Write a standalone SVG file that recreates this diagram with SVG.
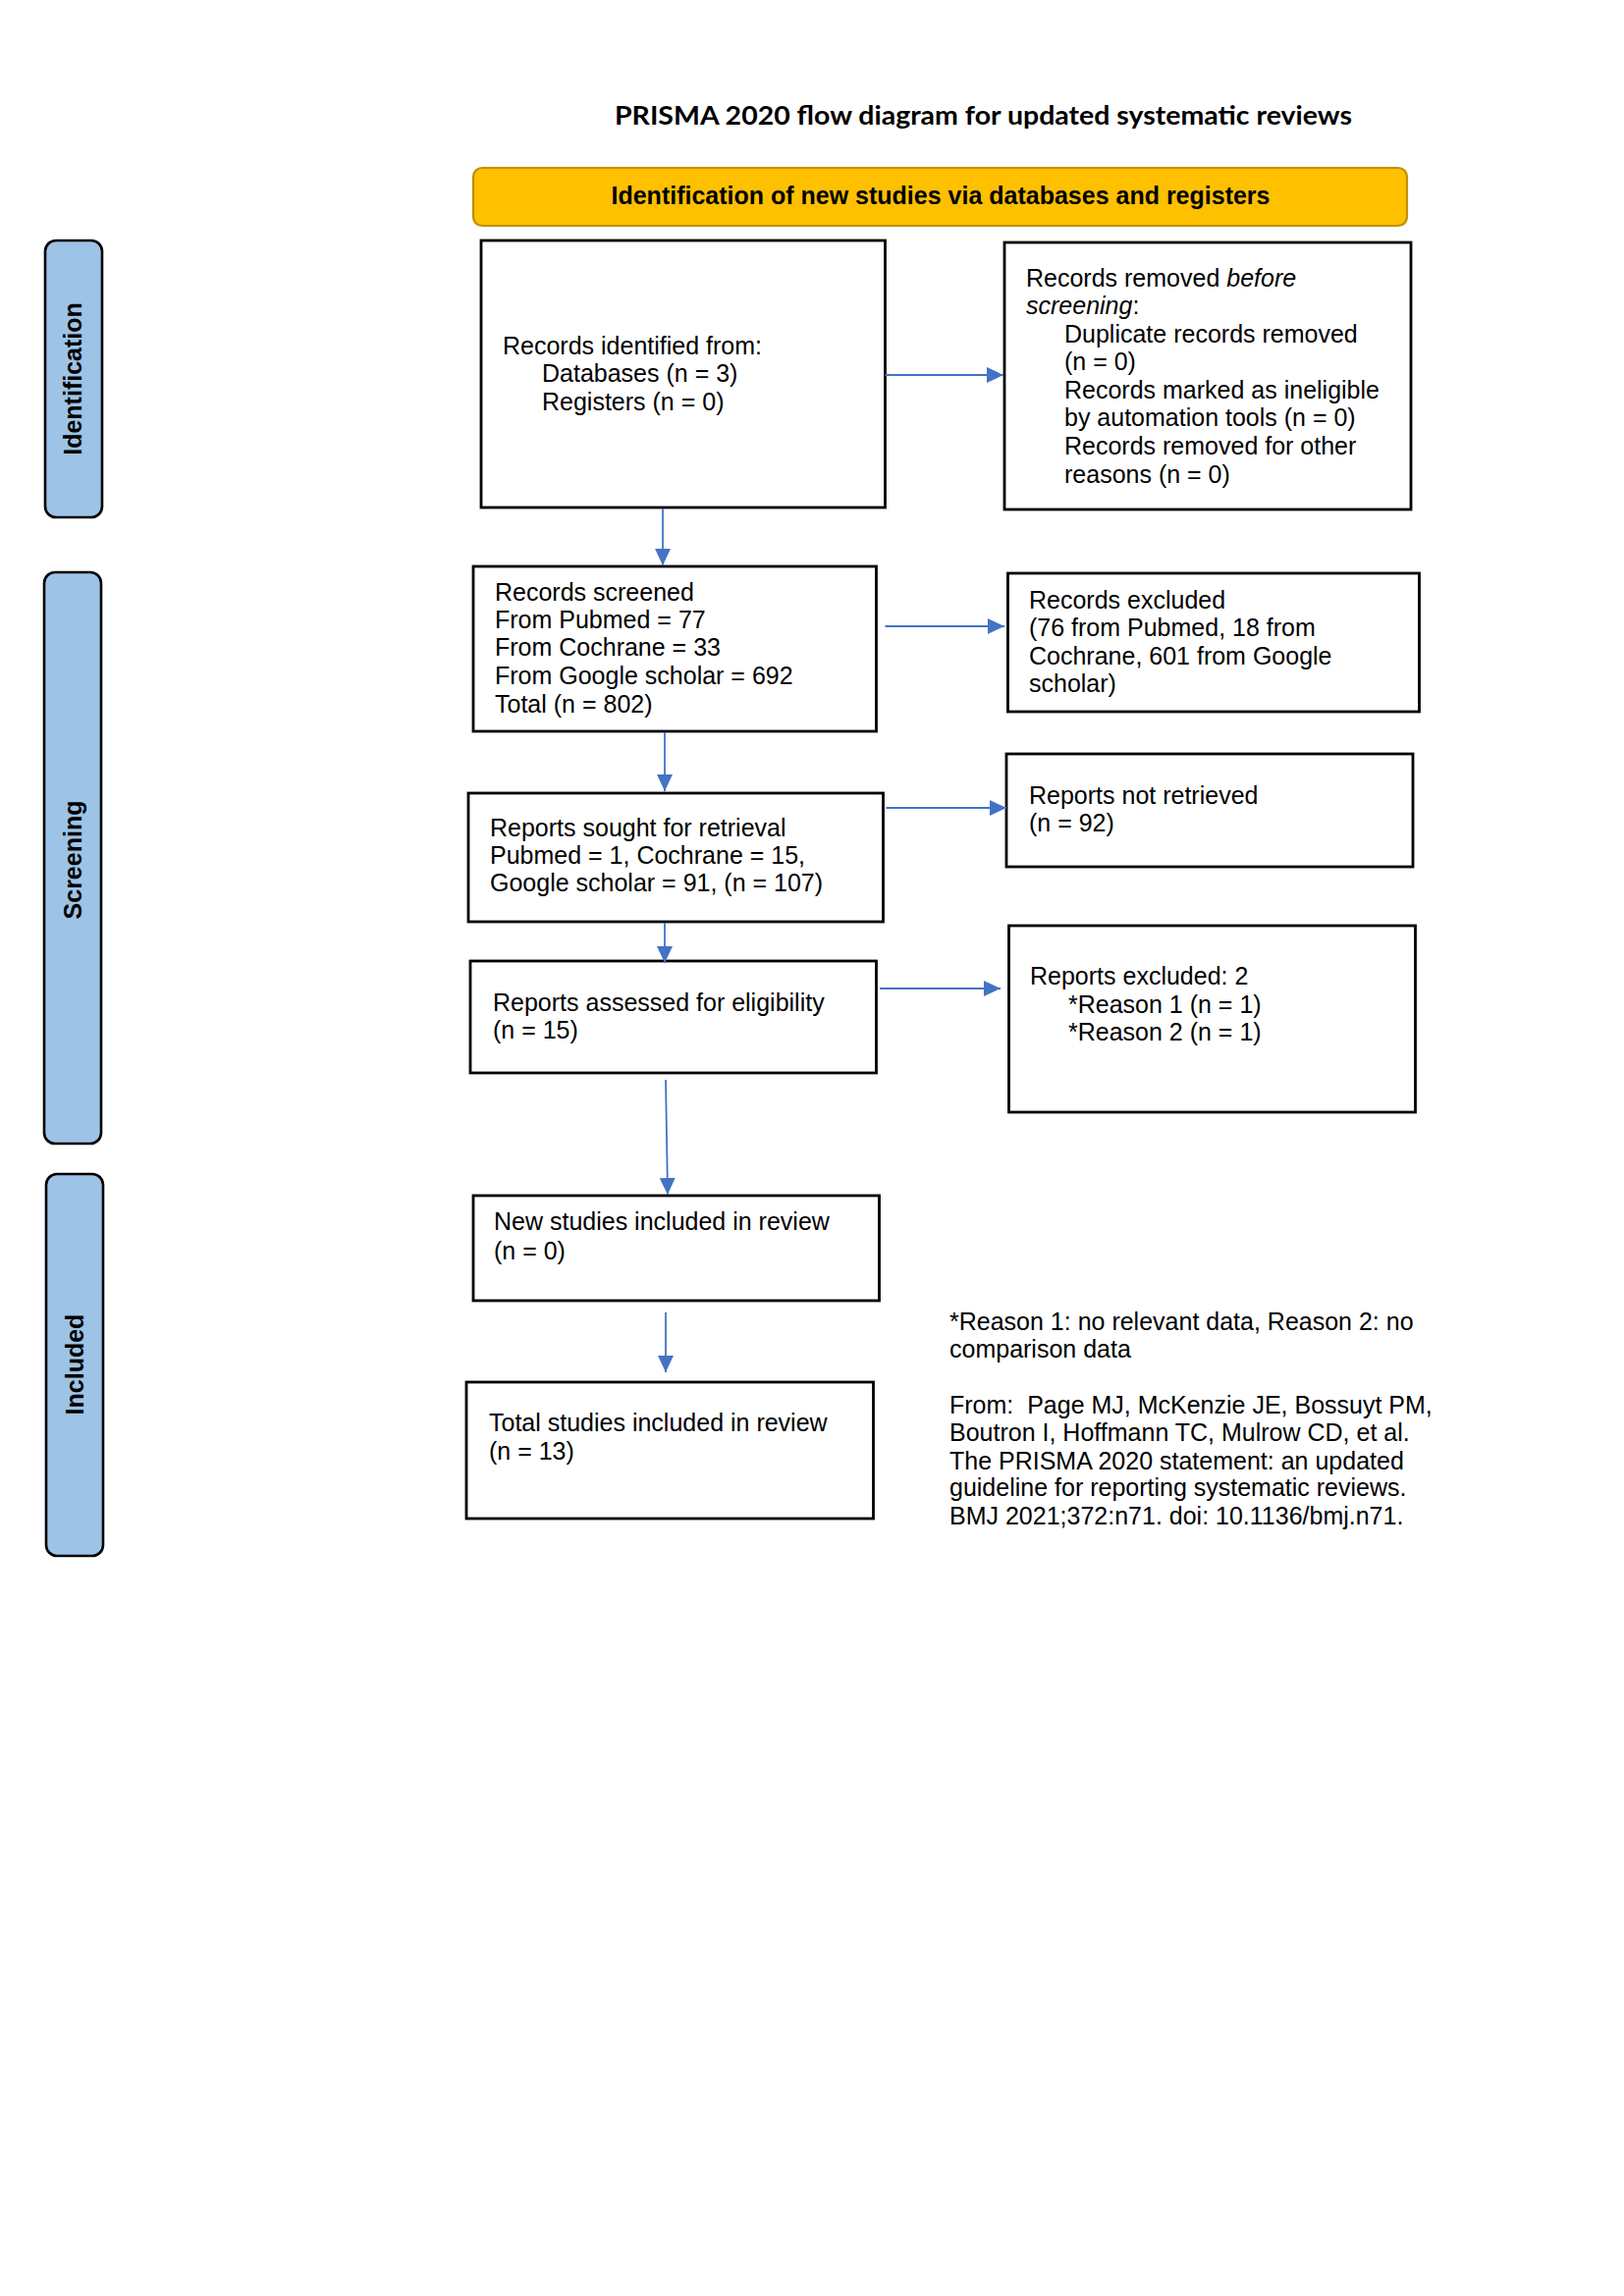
<svg xmlns="http://www.w3.org/2000/svg" width="1654" height="2339" viewBox="0 0 1654 2339">
  <style>
    .box { fill: #ffffff; stroke: #000000; stroke-width: 2.8; }
    .bar { fill: #9DC3E6; stroke: #000000; stroke-width: 2.6; }
    .hdr { fill: #FFC000; stroke: #BF9000; stroke-width: 2.2; }
    .t { font-family: "Liberation Sans", Arial, sans-serif; font-size: 25px; fill: #000000; }
    .b { font-family: "Liberation Sans", Arial, sans-serif; font-size: 25px; font-weight: bold; fill: #000000; }
    .title { font-family: Lato, "Liberation Sans", sans-serif; font-size: 27px; font-weight: bold; fill: #000000; }
    .i { font-style: italic; }
    .arrow { stroke: #4472C4; stroke-width: 1.8; fill: none; marker-end: url(#ah); }
  </style>
  <defs>
    <marker id="ah" markerUnits="userSpaceOnUse" markerWidth="17" markerHeight="16" refX="17" refY="8" orient="auto" viewBox="0 0 17 16">
      <path d="M0,0 L17,8 L0,16 Z" fill="#4472C4"/>
    </marker>
  </defs>
  <rect width="1654" height="2339" fill="#ffffff"/>

  <g id="title">
    <text class="title" x="626" y="127" textLength="751" lengthAdjust="spacingAndGlyphs">PRISMA 2020 flow diagram for updated systematic reviews</text>
  </g>

  <g id="header">
    <rect class="hdr" x="482" y="171" width="951" height="59" rx="9"/>
    <text class="b" x="958" y="208" text-anchor="middle">Identification of new studies via databases and registers</text>
  </g>

  <g id="bar-identification">
    <rect class="bar" x="46" y="245" width="58" height="282" rx="11"/>
    <text class="b" transform="translate(83,386) rotate(-90)" text-anchor="middle">Identification</text>
  </g>
  <g id="bar-screening">
    <rect class="bar" x="45" y="583" width="58" height="582" rx="11"/>
    <text class="b" transform="translate(83,876) rotate(-90)" text-anchor="middle">Screening</text>
  </g>
  <g id="bar-included">
    <rect class="bar" x="47" y="1196" width="58" height="389" rx="11"/>
    <text class="b" transform="translate(85,1390) rotate(-90)" text-anchor="middle">Included</text>
  </g>

  <g id="records-identified">
    <rect class="box" x="490" y="245" width="411.5" height="272"/>
    <text class="t" x="512" y="361">Records identified from:</text>
    <text class="t" x="552" y="389">Databases (n = 3)</text>
    <text class="t" x="552" y="418">Registers (n = 0)</text>
  </g>

  <g id="records-removed">
    <rect class="box" x="1023" y="247" width="414" height="272"/>
    <text class="t" x="1045" y="292">Records removed <tspan class="i">before</tspan></text>
    <text class="t" x="1045" y="320"><tspan class="i">screening</tspan>:</text>
    <text class="t" x="1084" y="349">Duplicate records removed</text>
    <text class="t" x="1084" y="377">(n = 0)</text>
    <text class="t" x="1084" y="406">Records marked as ineligible</text>
    <text class="t" x="1084" y="434">by automation tools (n = 0)</text>
    <text class="t" x="1084" y="463">Records removed for other</text>
    <text class="t" x="1084" y="492">reasons (n = 0)</text>
  </g>

  <g id="records-screened">
    <rect class="box" x="482" y="577" width="410.5" height="168"/>
    <text class="t" x="504" y="612">Records screened</text>
    <text class="t" x="504" y="640">From Pubmed = 77</text>
    <text class="t" x="504" y="668">From Cochrane = 33</text>
    <text class="t" x="504" y="697">From Google scholar = 692</text>
    <text class="t" x="504" y="726">Total (n = 802)</text>
  </g>

  <g id="records-excluded">
    <rect class="box" x="1026.5" y="584" width="419" height="141"/>
    <text class="t" x="1048" y="620">Records excluded</text>
    <text class="t" x="1048" y="648">(76 from Pubmed, 18 from</text>
    <text class="t" x="1048" y="677">Cochrane, 601 from Google</text>
    <text class="t" x="1048" y="705">scholar)</text>
  </g>

  <g id="reports-sought">
    <rect class="box" x="477" y="808" width="422.5" height="131"/>
    <text class="t" x="499" y="852">Reports sought for retrieval</text>
    <text class="t" x="499" y="880">Pubmed = 1, Cochrane = 15,</text>
    <text class="t" x="499" y="908">Google scholar = 91, (n = 107)</text>
  </g>

  <g id="reports-not-retrieved">
    <rect class="box" x="1025" y="768" width="414" height="115"/>
    <text class="t" x="1048" y="819">Reports not retrieved</text>
    <text class="t" x="1048" y="847">(n = 92)</text>
  </g>

  <g id="reports-assessed">
    <rect class="box" x="479" y="979" width="413.5" height="114"/>
    <text class="t" x="502" y="1030">Reports assessed for eligibility</text>
    <text class="t" x="502" y="1058">(n = 15)</text>
  </g>

  <g id="reports-excluded">
    <rect class="box" x="1027.5" y="943" width="414" height="190"/>
    <text class="t" x="1049" y="1003">Reports excluded: 2</text>
    <text class="t" x="1088" y="1032">*Reason 1 (n = 1)</text>
    <text class="t" x="1088" y="1060">*Reason 2 (n = 1)</text>
  </g>

  <g id="new-studies">
    <rect class="box" x="482" y="1218" width="413.5" height="107"/>
    <text class="t" x="503" y="1253">New studies included in review</text>
    <text class="t" x="503" y="1283">(n = 0)</text>
  </g>

  <g id="total-studies">
    <rect class="box" x="475" y="1408" width="414.5" height="139"/>
    <text class="t" x="498" y="1458">Total studies included in review</text>
    <text class="t" x="498" y="1487">(n = 13)</text>
  </g>

  <g id="footnote">
    <text class="t" x="967" y="1355">*Reason 1: no relevant data, Reason 2: no</text>
    <text class="t" x="967" y="1383">comparison data</text>
    <text class="t" x="967" y="1440" xml:space="preserve">From:  Page MJ, McKenzie JE, Bossuyt PM,</text>
    <text class="t" x="967" y="1468">Boutron I, Hoffmann TC, Mulrow CD, et al.</text>
    <text class="t" x="967" y="1497">The PRISMA 2020 statement: an updated</text>
    <text class="t" x="967" y="1524">guideline for reporting systematic reviews.</text>
    <text class="t" x="967" y="1553">BMJ 2021;372:n71. doi: 10.1136/bmj.n71.</text>
  </g>

  <g id="connectors">
    <line class="arrow" x1="901.5" y1="382" x2="1022" y2="382"/>
    <line class="arrow" x1="675" y1="518" x2="675" y2="576"/>
    <line class="arrow" x1="901.5" y1="638" x2="1023" y2="638"/>
    <line class="arrow" x1="902.5" y1="823" x2="1025" y2="823"/>
    <line class="arrow" x1="677" y1="746" x2="677" y2="806"/>
    <line class="arrow" x1="677" y1="940" x2="677" y2="981"/>
    <line class="arrow" x1="896" y1="1007" x2="1019" y2="1007"/>
    <line class="arrow" x1="678" y1="1100" x2="680" y2="1217"/>
    <line class="arrow" x1="678" y1="1337" x2="678" y2="1398"/>
  </g>
</svg>
